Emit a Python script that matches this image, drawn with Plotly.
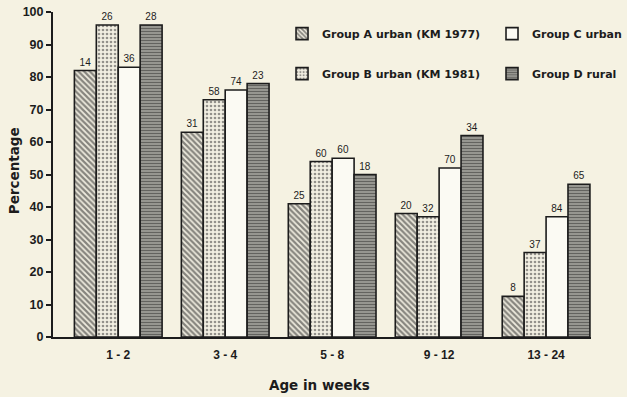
import plotly.graph_objects as go

categories = ["1 - 2", "3 - 4", "5 - 8", "9 - 12", "13 - 24"]
group_a = [82, 63, 41, 38, 12.5]
group_b = [96, 73, 54, 37, 26]
group_c = [83, 76, 55, 52, 37]
group_d = [96, 78, 50, 62, 47]
n_a = [14, 31, 25, 20, 8]
n_b = [26, 58, 60, 32, 37]
n_c = [36, 74, 60, 70, 84]
n_d = [28, 23, 18, 34, 65]
names = ["Group A urban (KM 1977)", "Group B urban (KM 1981)", "Group C urban", "Group D rural"]

BG = "#f5f2e2"
INK = "#1c1c1c"
FONT = "DejaVu Sans, Arial, sans-serif"
LFONT = "Liberation Sans, Arial, sans-serif"

series = [
    (names[0], group_a, n_a, dict(shape="\\", size=4, solidity=0.55, fgcolor="#1e1e1e", bgcolor="#eeebde"), "legend"),
    (names[1], group_b, n_b, dict(shape=".", size=4, solidity=0.35, fgcolor="#333333", bgcolor="#f2efe2"), "legend"),
    (names[2], group_c, n_c, None, "legend2"),
    (names[3], group_d, n_d, dict(shape="-", size=3, solidity=0.6, fgcolor="#0e0e0e", bgcolor="#b8b8b0"), "legend2"),
]

fig = go.Figure()
for name, vals, ns, pat, leg in series:
    marker = dict(color="#fbfaf3", line=dict(color=INK, width=1.6))
    if pat is not None:
        marker["pattern"] = pat
    fig.add_trace(go.Bar(
        name=name, x=categories, y=vals, text=[str(v) for v in ns],
        textposition="outside", cliponaxis=False,
        textfont=dict(family=LFONT, size=10, color=INK),
        marker=marker, legend=leg, legendgroup=name,
    ))

legend_common = dict(
    orientation="v", yanchor="top", xanchor="left",
    font=dict(family=FONT, size=11, color=INK, weight="bold"),
    bgcolor="rgba(0,0,0,0)", tracegroupgap=21, itemwidth=30,
)

fig.update_layout(
    width=627, height=397,
    paper_bgcolor=BG, plot_bgcolor=BG,
    margin=dict(l=53, r=36, t=12, b=60, autoexpand=False),
    barmode="group", bargap=0.18, bargroupgap=0.0,
    font=dict(family=FONT, color=INK),
    showlegend=True,
    legend=dict(x=0.4257, y=0.978, **legend_common),
    legend2=dict(x=0.816, y=0.978, **legend_common),
    uniformtext=dict(minsize=9, mode="show"),
    annotations=[
        dict(text="Percentage", xref="paper", yref="paper", x=-0.072, y=0.511,
             textangle=-90, showarrow=False, xanchor="center", yanchor="middle",
             font=dict(family=FONT, size=13.5, color=INK, weight="bold")),
        dict(text="Age in weeks", xref="paper", yref="paper", x=0.496, y=-0.148,
             showarrow=False, xanchor="center", yanchor="middle",
             font=dict(family=FONT, size=13.5, color=INK, weight="bold")),
    ],
)
fig.update_yaxes(
    range=[0, 100], dtick=10, showgrid=False, zeroline=False, automargin=False,
    showline=True, linecolor=INK, linewidth=2,
    ticks="outside", ticklen=5, tickwidth=2, tickcolor=INK,
    tickfont=dict(family=LFONT, size=12.5, color=INK, weight="bold"),
)
fig.update_xaxes(
    range=[-0.61, 4.42], showgrid=False, showline=True, linecolor=INK, linewidth=2,
    ticks="", automargin=False, ticklabelstandoff=6,
    tickfont=dict(family=LFONT, size=12, color=INK, weight="bold"),
)

fig.write_html("out.html", config={"displayModeBar": False},
               post_script="document.body.style.margin='0';")
